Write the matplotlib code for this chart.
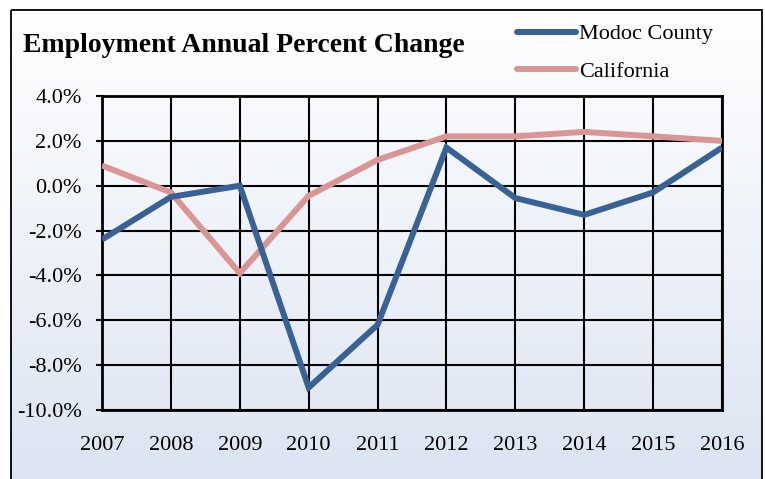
import numpy as np
import matplotlib
matplotlib.use("Agg")
import matplotlib.pyplot as plt
from matplotlib.patches import Rectangle
from matplotlib.ticker import FuncFormatter, MultipleLocator

years = [2007, 2008, 2009, 2010, 2011, 2012, 2013, 2014, 2015, 2016]
modoc = [-2.4, -0.5, 0.0, -9.0, -6.2, 1.7, -0.55, -1.3, -0.3, 1.7]
california = [0.9, -0.3, -3.9, -0.45, 1.15, 2.2, 2.2, 2.4, 2.2, 2.0]
title = "Employment Annual Percent Change"
series_names = ["Modoc County", "California"]

W, H = 765, 479
DPI = 100
serif = ["Liberation Serif", "DejaVu Serif"]
plt.rcParams["font.family"] = serif

fig = plt.figure(figsize=(W / DPI, H / DPI), dpi=DPI)

# background gradient with frame
bg = fig.add_axes([0, 0, 1, 1], zorder=-10)
bg.axis("off")
top_c = np.array([1.0, 1.0, 1.0])
bot_c = np.array([0xDC, 0xE4, 0xF2]) / 255.0
t = np.linspace(0, 1, 256)[:, None]
grad = (top_c[None, :] * (1 - t) + bot_c[None, :] * t)[:, None, :]
grad = np.repeat(grad, 2, axis=1)
bg.imshow(grad, extent=[11, 762, H + 5, 10], aspect="auto", zorder=0)
bg.add_patch(Rectangle((11, 10), 751, H + 20, fill=False, edgecolor="black",
                       linewidth=1.3, zorder=1))
bg.set_xlim(0, W)
bg.set_ylim(H, 0)

left, right, top, bottom = 102, 722, 96, 410
ax = fig.add_axes([left / W, 1 - bottom / H, (right - left) / W, (bottom - top) / H])
ax.patch.set_alpha(0)

l1, = ax.plot(years, modoc, color="#386195", linewidth=4.3, solid_capstyle="butt",
              solid_joinstyle="miter", zorder=4, label=series_names[0])
l2, = ax.plot(years, california, color="#D99694", linewidth=4.3, solid_capstyle="butt",
              solid_joinstyle="miter", zorder=3, label=series_names[1])

ax.set_xlim(years[0], years[-1])
ax.set_ylim(-10, 4)
ax.yaxis.set_major_locator(MultipleLocator(2))
ax.set_xticks(years)
ax.yaxis.set_major_formatter(FuncFormatter(lambda v, p: f"{v:.1f}%"))
ax.grid(True, color="black", linewidth=1.5, zorder=1)
ax.set_axisbelow(True)
for s in ax.spines.values():
    s.set_color("black")
    s.set_linewidth(2.0)
ax.tick_params(axis="y", length=4.5, width=1.5, pad=10, labelsize=16)
ax.tick_params(axis="x", length=0, pad=19, labelsize=16)
for lab in ax.get_xticklabels() + ax.get_yticklabels():
    lab.set_family(serif)

fig.text(23 / W, 1 - 45 / H, title, ha="left", va="center", fontsize=20,
         fontweight="bold", family=serif)

leg = ax.legend(handles=[l1, l2], loc="center left",
                bbox_to_anchor=(517 / W, 1 - 53 / H), bbox_transform=fig.transFigure,
                frameon=False, borderpad=0, borderaxespad=0,
                handlelength=2.66, handletextpad=0.12, labelspacing=0.78,
                prop={"family": serif, "size": 16})
for h in leg.get_lines():
    h.set_solid_capstyle("round")

fig.savefig("out.png", dpi=DPI)
